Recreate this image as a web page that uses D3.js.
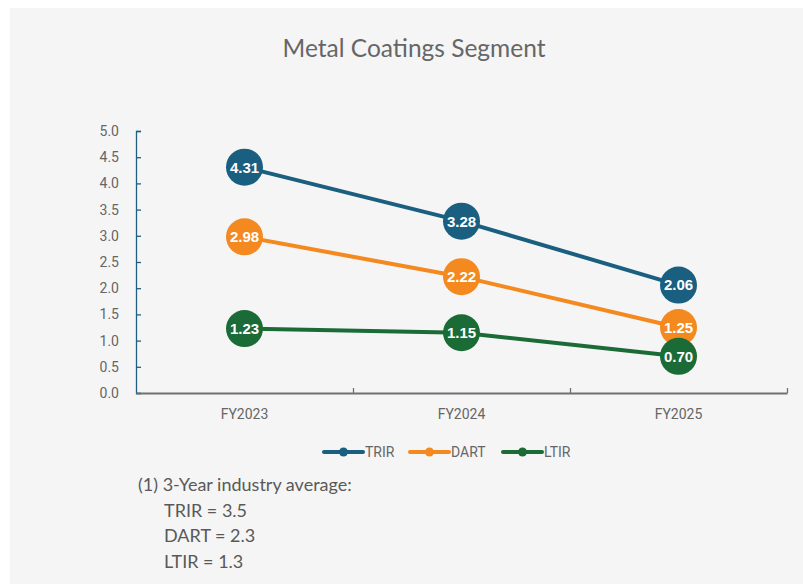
<!DOCTYPE html>
<html>
<head>
<meta charset="utf-8">
<script src="https://cdn.jsdelivr.net/npm/d3@7"></script>
<style>
  body { margin: 0; background: #ffffff; }
  svg { display: block; }
</style>
</head>
<body>
<div id="area_1"></div>
<script>
var years = ["FY2023", "FY2024", "FY2025"]
var series_names = ["TRIR", "DART", "LTIR"]
var trir = [4.31, 3.28, 2.06]
var dart = [2.98, 2.22, 1.25]
var ltir = [1.23, 1.15, 0.70]
var series_colors = ["#1a5f80", "#f4891f", "#1b6b36"]
var y_ticks = [0, 0.5, 1, 1.5, 2, 2.5, 3, 3.5, 4, 4.5, 5]
var note_lines = ["(1) 3-Year industry average:", "TRIR = 3.5", "DART = 2.3", "LTIR = 1.3"]

var W = 803, H = 584
var plot_left = 136, plot_right = 787, plot_top = 131, plot_bottom = 393

var series = [trir, dart, ltir].map(function(v, i) {
  return { name: series_names[i], color: series_colors[i], values: v }
})

var svg = d3.select("#area_1").append("svg")
  .attr("width", W).attr("height", H)

svg.append("rect")
  .attr("x", 10).attr("y", 8)
  .attr("width", W - 10).attr("height", H - 8)
  .style("fill", "#f5f5f5")

// title
svg.append("text")
  .attr("x", 414).attr("y", 57)
  .attr("text-anchor", "middle")
  .style("font-family", "Lato, 'Open Sans', sans-serif")
  .style("font-size", "24.5px")
  .style("fill", "#666666")
  .text("Metal Coatings Segment")

var x = d3.scaleBand().domain(years).range([plot_left, plot_right])
var xb = d3.scaleLinear().domain([0, years.length]).range([plot_left, plot_right])
var y = d3.scaleLinear().domain([0, 5]).range([plot_bottom, plot_top])

// y axis
var yAxis = svg.append("g")
  .attr("transform", "translate(" + plot_left + ",0)")
  .call(d3.axisLeft(y).tickValues(y_ticks).tickFormat(d3.format(".1f")).tickSize(-5).tickPadding(17))
yAxis.selectAll("path, line").style("stroke", "#1f5f82").style("stroke-width", 1.3)
yAxis.selectAll("text")
  .style("font-family", "Roboto, Arial, sans-serif")
  .style("font-size", "14px")
  .style("fill", "#666666")

// x axis
var xAxis = svg.append("g")
  .attr("transform", "translate(0," + plot_bottom + ")")
  .call(d3.axisBottom(x).tickSize(0).tickPadding(16).tickSizeOuter(0))
xAxis.select("path").style("stroke", "#707070").style("stroke-width", 1.8)
xAxis.selectAll("text")
  .style("font-family", "Roboto, Arial, sans-serif")
  .style("font-size", "14px")
  .style("fill", "#666666")

var xTicks = svg.append("g")
  .attr("transform", "translate(0," + plot_bottom + ")")
  .call(d3.axisBottom(xb).tickValues([1, 2, 3]).tickSize(-5).tickFormat(""))
xTicks.select("path").remove()
xTicks.selectAll("line").style("stroke", "#707070").style("stroke-width", 1.3)

// lines and markers
var line = d3.line()
  .x(function(d, i) { return x(years[i]) + x.bandwidth() / 2 })
  .y(function(d) { return y(d) })

series.forEach(function(s) {
  svg.append("path")
    .datum(s.values)
    .attr("d", line)
    .style("fill", "none")
    .style("stroke", s.color)
    .style("stroke-width", 4)
})

series.forEach(function(s) {
  var g = svg.append("g")
  g.selectAll("circle")
    .data(s.values)
    .enter()
    .append("circle")
      .attr("cx", function(d, i) { return x(years[i]) + x.bandwidth() / 2 })
      .attr("cy", function(d) { return y(d) })
      .attr("r", 18.5)
      .style("fill", s.color)
  g.selectAll("text")
    .data(s.values)
    .enter()
    .append("text")
      .attr("x", function(d, i) { return x(years[i]) + x.bandwidth() / 2 })
      .attr("y", function(d) { return y(d) })
      .attr("dy", "0.36em")
      .attr("text-anchor", "middle")
      .style("font-family", "'Liberation Sans', Arial, sans-serif")
      .style("font-weight", "bold")
      .style("font-size", "15px")
      .style("fill", "#ffffff")
      .text(function(d) { return d3.format(".2f")(d) })
})

// legend
var legend_x = [324, 410, 503]
var legend = svg.append("g").attr("transform", "translate(0,452)")
series.forEach(function(s, i) {
  var lg = legend.append("g").attr("transform", "translate(" + legend_x[i] + ",0)")
  lg.append("line")
    .attr("x1", 0).attr("x2", 39)
    .attr("y1", 0).attr("y2", 0)
    .style("stroke", s.color)
    .style("stroke-width", 4)
    .style("stroke-linecap", "round")
  lg.append("circle")
    .attr("cx", 19.5).attr("cy", 0).attr("r", 4.5)
    .style("fill", s.color)
  lg.append("text")
    .attr("x", 41).attr("y", 0).attr("dy", "0.36em")
    .style("font-family", "Roboto, Arial, sans-serif")
    .style("font-size", "14px")
    .style("fill", "#666666")
    .text(s.name)
})

// footnote
svg.selectAll(".note")
  .data(note_lines)
  .enter()
  .append("text")
    .attr("class", "note")
    .attr("x", function(d, i) { return i == 0 ? 138 : 164 })
    .attr("y", function(d, i) { return 491 + i * 25.7 })
    .style("font-family", "Lato, 'Open Sans', sans-serif")
    .style("font-size", "18px")
    .style("fill", "#595959")
    .text(function(d) { return d })
</script>
</body>
</html>
